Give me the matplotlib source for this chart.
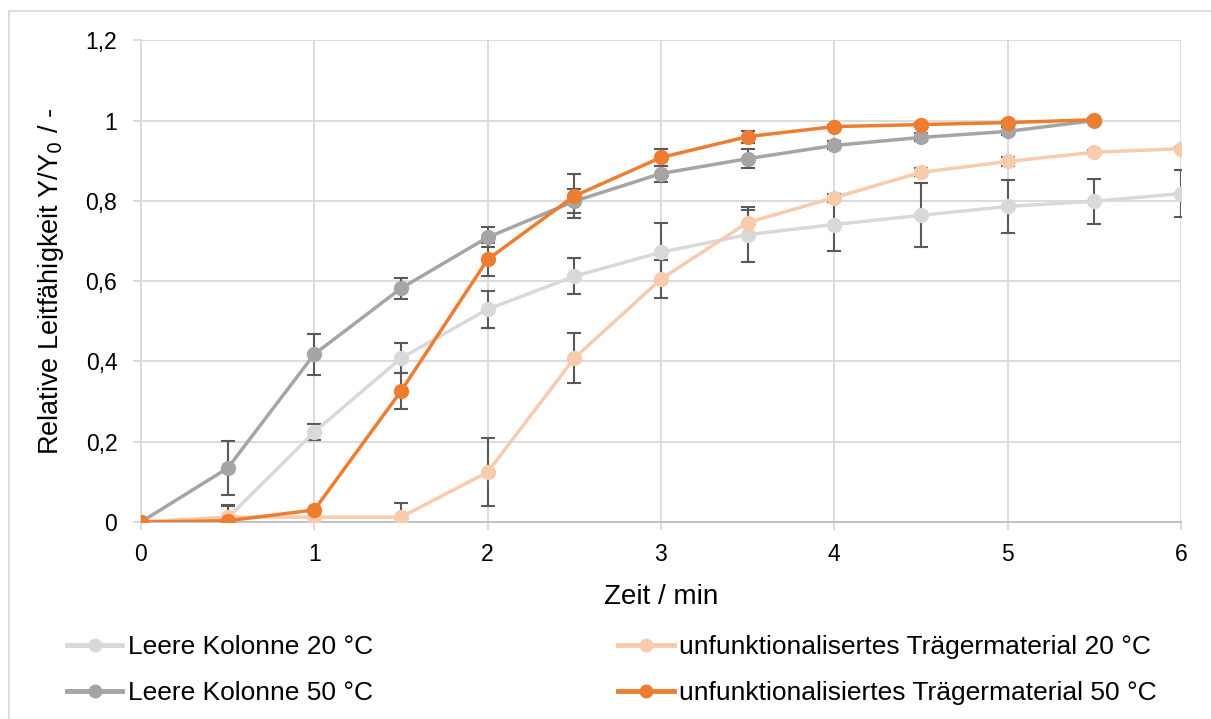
import numpy as np
import matplotlib.pyplot as plt
from matplotlib.lines import Line2D
from matplotlib.ticker import FuncFormatter

plt.rcParams['font.family'] = ['Liberation Sans', 'DejaVu Sans']

# data
zeit_20 = [0, 0.5, 1, 1.5, 2, 2.5, 3, 3.5, 4, 4.5, 5, 5.5, 6]
zeit_50 = [0, 0.5, 1, 1.5, 2, 2.5, 3, 3.5, 4, 4.5, 5, 5.5]

leer_20 = [0, 0.01, 0.224, 0.408, 0.53, 0.612, 0.672, 0.716, 0.741, 0.764, 0.786, 0.799, 0.818]
leer_20_err = [0, 0.03, 0.02, 0.037, 0.046, 0.045, 0.072, 0.068, 0.067, 0.08, 0.067, 0.056, 0.059]

leer_50 = [0, 0.134, 0.418, 0.582, 0.709, 0.799, 0.868, 0.905, 0.938, 0.958, 0.973, 1.0]
leer_50_err = [0, 0.067, 0.051, 0.027, 0.025, 0.03, 0.02, 0.024, 0.01, 0.01, 0.01, 0.005]

traeger_20 = [0, 0.012, 0.012, 0.012, 0.124, 0.408, 0.605, 0.746, 0.808, 0.871, 0.898, 0.921, 0.93]
traeger_20_err = [0, 0.03, 0.0, 0.035, 0.085, 0.062, 0.048, 0.03, 0.01, 0.01, 0.01, 0.005, 0.005]

traeger_50 = [0, 0.003, 0.03, 0.326, 0.654, 0.812, 0.908, 0.96, 0.985, 0.99, 0.995, 1.002]
traeger_50_err = [0, 0.0, 0.0, 0.045, 0.04, 0.054, 0.022, 0.015, 0.005, 0.005, 0.005, 0.005]

labels = ['Leere Kolonne 20 °C', 'Leere Kolonne 50 °C',
          'unfunktionalisertes Trägermaterial 20 °C',
          'unfunktionalisiertes Trägermaterial 50 °C']
colors = ['#d9d9d9', '#a5a5a5', '#f8cbad', '#ed7d31']

fig = plt.figure(figsize=(12.11, 7.19), dpi=100)
ax = fig.add_axes([0.1164, 0.274, 0.8588, 0.670])

series = [
    (zeit_20, leer_20, leer_20_err),
    (zeit_50, leer_50, leer_50_err),
    (zeit_20, traeger_20, traeger_20_err),
    (zeit_50, traeger_50, traeger_50_err),
]
for x, y, err in series:
    ax.errorbar(x, y, yerr=err, fmt='none', ecolor='#595959', elinewidth=1.5,
                capsize=5, capthick=1.5, zorder=3)
for (x, y, err), col in zip(series, colors):
    ax.plot(x, y, color=col, lw=2.5, marker='o', markersize=10, zorder=4)

ax.set_xlim(0, 6)
ax.set_ylim(0, 1.2)
ax.set_xticks(np.arange(0, 7, 1))
ax.set_yticks(np.arange(0, 1.21, 0.2))
ax.yaxis.set_major_formatter(FuncFormatter(
    lambda v, p: '0' if abs(v) < 1e-9 else ('1' if abs(v - 1) < 1e-9 else f'{v:.1f}'.replace('.', ','))))
ax.grid(True, color='#d9d9d9', lw=1.3)
ax.set_axisbelow(True)
for s in ['top', 'right']:
    ax.spines[s].set_visible(False)
ax.spines['left'].set_color('#d9d9d9')
ax.spines['bottom'].set_color('#bfbfbf')
ax.spines['left'].set_linewidth(1.3)
ax.spines['bottom'].set_linewidth(1.3)
ax.tick_params(axis='both', labelsize=16.5, colors='#d9d9d9', labelcolor='black', length=6, width=1.3)
ax.tick_params(axis='y', pad=11)
ax.tick_params(axis='x', pad=9)

ax.set_xlabel('Zeit / min', fontsize=20, labelpad=13)
ax.set_ylabel('Relative Leitfähigkeit Y/Y$_0$ / -', fontsize=19.5, labelpad=14)

handles = [Line2D([], [], color=c, lw=3.5, marker='o', markersize=9) for c in colors]
fig.legend(handles, labels, loc='lower left', bbox_to_anchor=(0.0553, 0.019), ncol=2,
           frameon=False, fontsize=19, handlelength=2.1, handletextpad=0.2,
           columnspacing=9.3, labelspacing=0.85, borderpad=0, borderaxespad=0)

# chart border (left and top visible)
fig.add_artist(Line2D([9 / 1211, 9 / 1211], [0, 1 - 11 / 719], color='#d9d9d9', lw=1.3,
                      transform=fig.transFigure))
fig.add_artist(Line2D([9 / 1211, 1], [1 - 11 / 719, 1 - 11 / 719], color='#d9d9d9', lw=1.3,
                      transform=fig.transFigure))

fig.savefig('out.png', dpi=100)
